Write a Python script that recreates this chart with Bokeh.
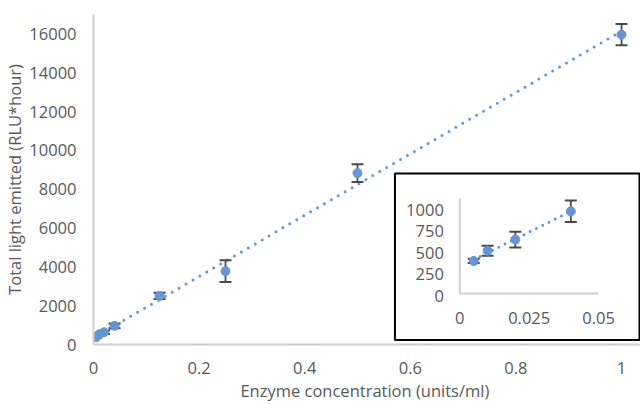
import numpy as np
from bokeh.plotting import figure
from bokeh.models import Range1d, FixedTicker, ColumnDataSource
from bokeh.core.properties import value
from bokeh.embed import file_html
from bokeh.resources import INLINE

# ---------------- data ----------------
conc = [0.005, 0.01, 0.02, 0.04, 0.125, 0.25, 0.5, 1.0]
light = [380, 500, 630, 960, 2500, 3780, 8830, 15960]
light_err = [25, 58, 92, 125, 160, 555, 460, 550]

inset_conc = [0.005, 0.01, 0.02, 0.04]
inset_light = [380, 500, 630, 960]
inset_err = [25, 58, 92, 125]

x_ticks = [0, 0.2, 0.4, 0.6, 0.8, 1.0]
x_tick_labels = ["0", "0.2", "0.4", "0.6", "0.8", "1"]
y_ticks = [0, 2000, 4000, 6000, 8000, 10000, 12000, 14000, 16000]
y_tick_labels = ["0", "2000", "4000", "6000", "8000", "10000", "12000", "14000", "16000"]
inset_x_ticks = [0, 0.025, 0.05]
inset_x_tick_labels = ["0", "0.025", "0.05"]
inset_y_ticks = [0, 250, 500, 750, 1000]
inset_y_tick_labels = ["0", "250", "500", "750", "1000"]

x_title = "Enzyme concentration  (units/ml)"
y_title = "Total light emitted (RLU*hour)"

# ---------------- styles / layout ----------------
BLUE = "#6496d6"
ERR = "#4a4a4a"
TXT = "#595959"
AXIS = "#cfcfcf"
FONT = "Open Sans"
FS = "16.5px"

W, H = 640, 405
FRAME_L, FRAME_R, FRAME_T, FRAME_B = 92, 640, 14, 344   # canvas pixels
X0_PX, X1_PX = 92, 621                                  # x=0 and x=1
Y_TOP = 17000

# inset geometry (canvas pixels)
IX0_PX, IX_SCALE = 459, (598 - 459) / 0.05
IY0_PX, IY_SCALE = 293, 85.6 / 1000
IY_AXIS_MAX = 1110
BOX_L, BOX_R, BOX_T, BOX_B = 394, 639, 173, 339.5


def ix(px):
    return (px - IX0_PX) / IX_SCALE


def iy(py):
    return (IY0_PX - py) / IY_SCALE


p = figure(
    width=W, height=H,
    x_range=Range1d(0, (FRAME_R - X0_PX) / (X1_PX - X0_PX)),
    y_range=Range1d(0, Y_TOP),
    output_backend="svg", toolbar_location=None,
    min_border_left=FRAME_L, min_border_right=W - FRAME_R,
    min_border_top=FRAME_T, min_border_bottom=H - FRAME_B,
    background_fill_color="white", border_fill_color="white",
)
p.outline_line_color = None
p.xgrid.visible = False
p.ygrid.visible = False

p.extra_x_ranges = {"ix": Range1d(ix(FRAME_L), ix(FRAME_R))}
p.extra_y_ranges = {"iy": Range1d(iy(FRAME_B), iy(FRAME_T))}

for ax in (p.xaxis[0], p.yaxis[0]):
    ax.axis_line_color = AXIS
    ax.axis_line_width = 2
    ax.major_tick_line_color = None
    ax.minor_tick_line_color = None
    ax.major_label_text_font = FONT
    ax.major_label_text_font_size = FS
    ax.major_label_text_color = TXT
    ax.axis_label_text_font = FONT
    ax.axis_label_text_font_size = FS
    ax.axis_label_text_font_style = "normal"
    ax.axis_label_text_color = TXT

p.xaxis.ticker = FixedTicker(ticks=x_ticks)
p.xaxis.major_label_overrides = dict(zip(x_ticks, x_tick_labels))
p.xaxis.major_label_standoff = 11
p.xaxis.axis_label = x_title
p.xaxis.axis_label_standoff = 2

p.yaxis.ticker = FixedTicker(ticks=y_ticks)
p.yaxis.major_label_overrides = dict(zip(y_ticks, y_tick_labels))
p.yaxis.major_label_standoff = 11
p.yaxis.axis_label = y_title
p.yaxis.axis_label_standoff = 0

# ---------------- main chart ----------------
slope, icpt = np.polyfit(conc, light, 1)
tx = [min(conc), max(conc)]
p.line(tx, [icpt + slope * v for v in tx], line_color=BLUE, line_width=3,
       line_dash="0 8", line_cap="round")

src = ColumnDataSource(dict(
    x=conc, y=light,
    lo=[v - e for v, e in zip(light, light_err)],
    hi=[v + e for v, e in zip(light, light_err)],
))
p.segment(x0="x", y0="lo", x1="x", y1="hi", source=src, line_color=ERR, line_width=1.8)
p.scatter(x="x", y="lo", source=src, marker="dash", size=12, line_color=ERR, line_width=2)
p.scatter(x="x", y="hi", source=src, marker="dash", size=12, line_color=ERR, line_width=2)
p.scatter(x="x", y="y", source=src, marker="circle", size=9, fill_color=BLUE, line_color=BLUE)

# ---------------- inset ----------------
R = dict(x_range_name="ix", y_range_name="iy")
p.quad(left=[ix(BOX_L)], right=[ix(BOX_R)], top=[iy(BOX_T)], bottom=[iy(BOX_B)],
       fill_color="white", line_color="black", line_width=2, **R)
p.segment(x0=[0], y0=[0], x1=[max(inset_x_ticks)], y1=[0], line_color=AXIS, line_width=2, **R)
p.segment(x0=[0], y0=[0], x1=[0], y1=[IY_AXIS_MAX], line_color=AXIS, line_width=2, **R)

islope, iicpt = np.polyfit(inset_conc, inset_light, 1)
itx = [min(inset_conc), max(inset_conc)]
p.line(itx, [iicpt + islope * v for v in itx], line_color=BLUE, line_width=3,
       line_dash="0 7", line_cap="round", **R)

isrc = ColumnDataSource(dict(
    x=inset_conc, y=inset_light,
    lo=[v - e for v, e in zip(inset_light, inset_err)],
    hi=[v + e for v, e in zip(inset_light, inset_err)],
))
p.segment(x0="x", y0="lo", x1="x", y1="hi", source=isrc, line_color=ERR, line_width=1.8, **R)
p.scatter(x="x", y="lo", source=isrc, marker="dash", size=12, line_color=ERR, line_width=2, **R)
p.scatter(x="x", y="hi", source=isrc, marker="dash", size=12, line_color=ERR, line_width=2, **R)
p.scatter(x="x", y="y", source=isrc, marker="circle", size=9, fill_color=BLUE, line_color=BLUE, **R)

p.text(x=inset_x_ticks, y=[0] * len(inset_x_ticks), text=inset_x_tick_labels,
       text_font=value(FONT), text_font_size=value(FS), text_color=TXT,
       text_align="center", text_baseline="middle", y_offset=24, **R)
p.text(x=[0] * len(inset_y_ticks), y=inset_y_ticks, text=inset_y_tick_labels,
       text_font=value(FONT), text_font_size=value(FS), text_color=TXT,
       text_align="right", text_baseline="middle", x_offset=-16, y_offset=2, **R)

open("out.html", "w").write(file_html(p, INLINE))
